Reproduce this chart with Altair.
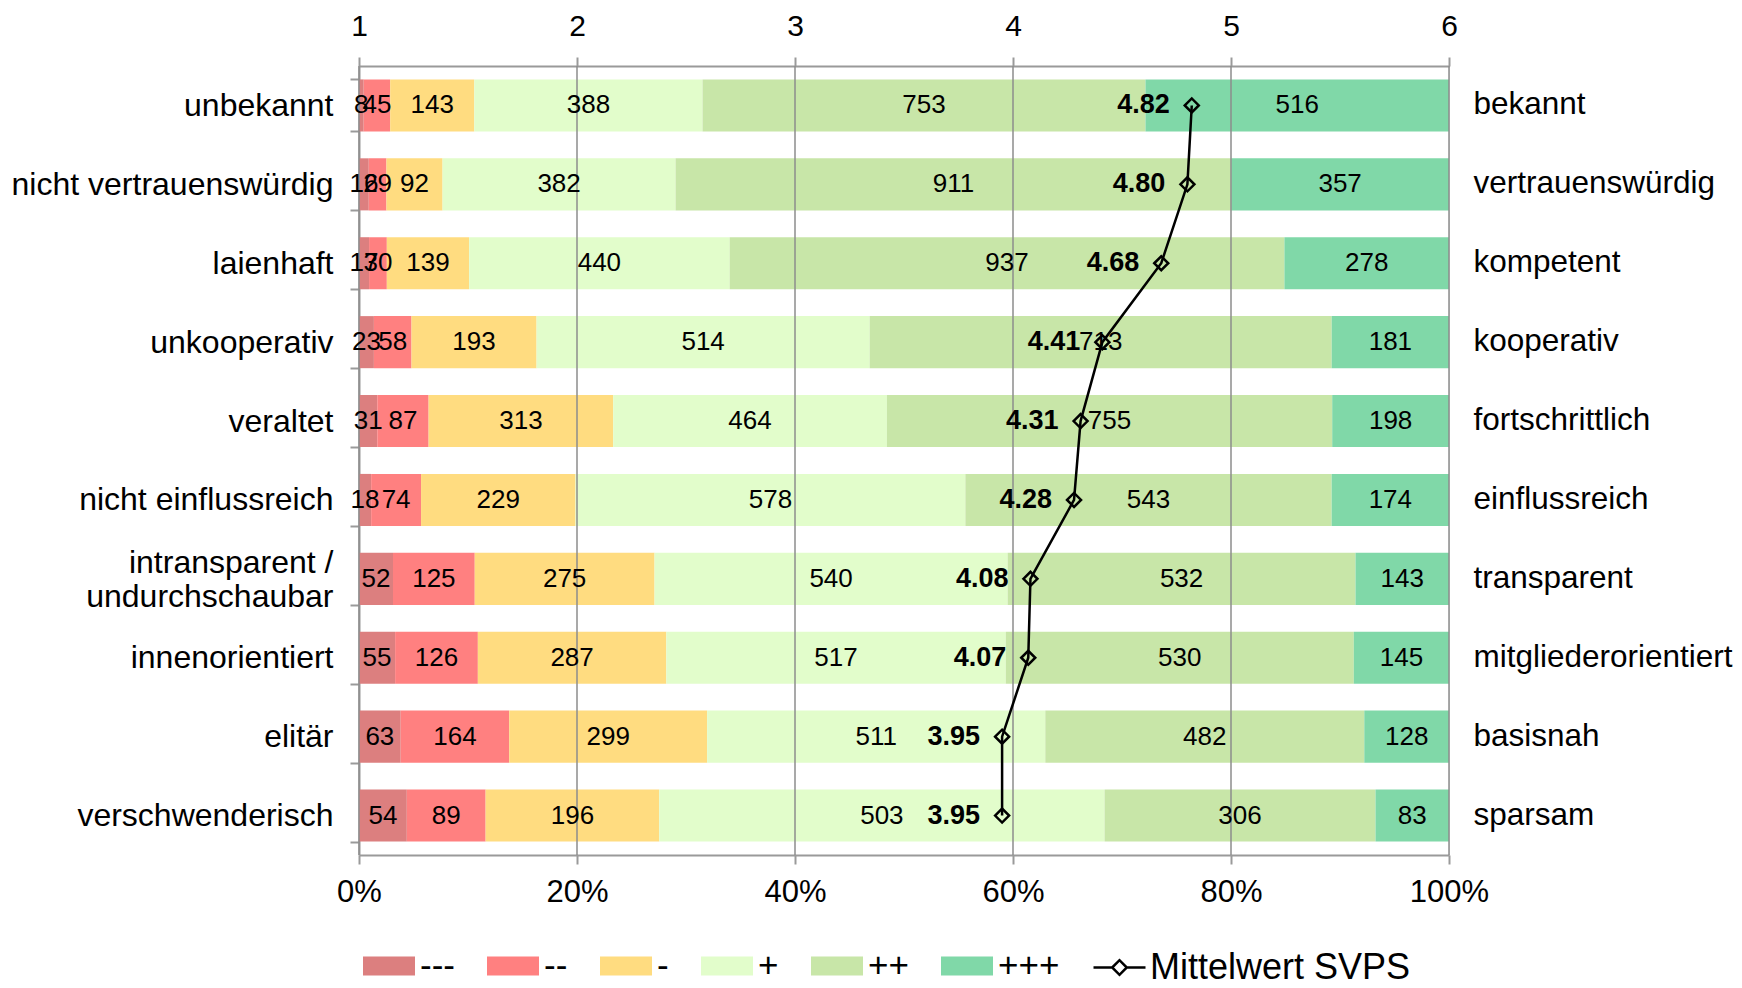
import altair as alt
import pandas as pd

FONT = "Liberation Sans"

left_labels = ["unbekannt", "nicht vertrauenswürdig", "laienhaft", "unkooperativ", "veraltet",
               "nicht einflussreich", "intransparent /\u00a0\u00a0|undurchschaubar", "innenorientiert",
               "elitär", "verschwenderisch"]
right_labels = ["bekannt", "vertrauenswürdig", "kompetent", "kooperativ", "fortschrittlich",
                "einflussreich", "transparent", "mitgliederorientiert", "basisnah", "sparsam"]
categories = ["---", "--", "-", "+", "++", "+++"]
cat_colors = ["#DC7F7F", "#FF8080", "#FFDC80", "#E2FDCB", "#C8E6A8", "#80D8A8"]

v_mmm = [8, 16, 17, 23, 31, 18, 52, 55, 63, 54]
v_mm = [45, 29, 30, 58, 87, 74, 125, 126, 164, 89]
v_m = [143, 92, 139, 193, 313, 229, 275, 287, 299, 196]
v_p = [388, 382, 440, 514, 464, 578, 540, 517, 511, 503]
v_pp = [753, 911, 937, 713, 755, 543, 532, 530, 482, 306]
v_ppp = [516, 357, 278, 181, 198, 174, 143, 145, 128, 83]
means = [4.82, 4.80, 4.68, 4.41, 4.31, 4.28, 4.08, 4.07, 3.95, 3.95]
mean_series = "Mittelwert SVPS"

scale_ticks = [1, 2, 3, 4, 5, 6]
pct_ticks = [0, 0.2, 0.4, 0.6, 0.8, 1.0]

series = [v_mmm, v_mm, v_m, v_p, v_pp, v_ppp]
rows = []
for ci, (cat, vals) in enumerate(zip(categories, series)):
    for i, v in enumerate(vals):
        rows.append({"idx": i, "cat": cat, "order": ci, "count": v})
df = pd.DataFrame(rows)
mean_df = pd.DataFrame({"idx": list(range(len(means))), "mean": means,
                        "series": [mean_series] * len(means)})
grid_df = pd.DataFrame({"p": pct_ticks})

lo, hi = scale_ticks[0], scale_ticks[-1]

xscale = alt.Scale(domain=[0, 1], nice=False, zero=False)
yscale = alt.Scale(paddingInner=0.34, paddingOuter=0.17)

L = str(left_labels)
R = str(right_labels)
left_expr = "isString(%s[datum.value]) ? split(%s[datum.value], '|') : ''" % (L, L)
right_expr = "isString(%s[datum.value]) ? %s[datum.value] : ''" % (R, R)
top_expr = "format(%d + datum.value * %d, 'd')" % (lo, hi - lo)
multi_idx = [i for i, s in enumerate(left_labels) if "|" in s]
multi_test = " || ".join("datum.value == %d" % i for i in multi_idx) or "false"

bottom_axis = alt.Axis(orient="bottom", values=pct_ticks, format="%", grid=False,
                       domainColor="#9a9a9a", domainWidth=2, tickColor="#9a9a9a",
                       tickWidth=2, tickSize=9, labelFontSize=31, labelFont=FONT,
                       labelColor="black", labelPadding=13, title=None, labelFlush=False)
top_axis = alt.Axis(orient="top", values=pct_ticks, labelExpr=top_expr, grid=False,
                    domainColor="#9a9a9a", domainWidth=2, tickColor="#9a9a9a",
                    tickWidth=2, tickSize=9, labelFontSize=30, labelFont=FONT,
                    labelColor="black", labelPadding=16, title=None, labelFlush=False)
left_axis = alt.Axis(orient="left", labelExpr=left_expr, tickBand="extent", grid=False,
                     domainColor="#9a9a9a", domainWidth=2, tickColor="#9a9a9a",
                     tickWidth=2, tickSize=9, labelFontSize=32, labelFont=FONT,
                     labelColor="black", labelPadding=17, labelLimit=0,
                     labelLineHeight=34,
                     labelOffset={"condition": {"test": multi_test, "value": -16}, "value": 0},
                     title=None)
right_axis = alt.Axis(orient="right", labelExpr=right_expr, grid=False, domain=False,
                      ticks=False, labelFontSize=31.5, labelFont=FONT, labelColor="black",
                      labelPadding=24, labelLimit=0, title=None)

base = alt.Chart(df).transform_stack(
    stack="count", groupby=["idx"], as_=["s0", "s1"], offset="normalize",
    sort=[alt.SortField("order", order="ascending")]
)

bars = base.mark_bar().encode(
    x=alt.X("s0:Q", scale=xscale, axis=bottom_axis),
    x2="s1:Q",
    y=alt.Y("idx:O", scale=yscale, axis=left_axis),
    color=alt.Color("cat:N", scale=alt.Scale(domain=categories, range=cat_colors),
                    sort=categories,
                    legend=alt.Legend(orient="none", legendX=4, legendY=874,
                                      direction="horizontal", columns=6, title=None,
                                      labelFontSize=35, labelFont=FONT, labelColor="black",
                                      labelLimit=0,
                                      symbolType="M-1,-0.37H1V0.37H-1Z", symbolSize=2704,
                                      symbolStrokeWidth=0, symbolOpacity=1,
                                      columnPadding=32, labelOffset=5, padding=0)),
)

grid = alt.Chart(grid_df).mark_rule(color="#8c8c8c", strokeWidth=1.5).encode(
    x=alt.X("p:Q", scale=xscale, axis=top_axis)
)

values = base.transform_calculate(mid="(datum.s0 + datum.s1) / 2").mark_text(
    fontSize=26, font=FONT, color="black"
).encode(
    x=alt.X("mid:Q", scale=xscale, axis=None),
    y=alt.Y("idx:O", scale=yscale, axis=right_axis),
    text=alt.Text("count:Q"),
)

mbase = alt.Chart(mean_df).transform_calculate(
    pos="(datum.mean - %d) / %d" % (lo, hi - lo)
)

line = mbase.mark_line(strokeWidth=2.5).encode(
    x=alt.X("pos:Q", scale=xscale, axis=None),
    y=alt.Y("idx:O", scale=yscale, axis=None),
    order="idx:Q",
    stroke=alt.Stroke("series:N", scale=alt.Scale(range=["black"]),
                      legend=alt.Legend(orient="none", legendX=733, legendY=874, title=None,
                                        labelFontSize=36, labelFont=FONT, labelColor="black",
                                        labelLimit=0,
                                        symbolType="M-1,0H-0.28M0.28,0H1M-0.28,0L0,-0.28L0.28,0L0,0.28Z",
                                        symbolSize=2704, symbolStrokeWidth=2.5,
                                        symbolStrokeColor="black", symbolFillColor="white",
                                        labelOffset=3, padding=0)),
)

points = mbase.mark_point(shape="diamond", filled=False, size=196, strokeWidth=2.5,
                          color="black", opacity=1).encode(
    x=alt.X("pos:Q", scale=xscale, axis=None),
    y=alt.Y("idx:O", scale=yscale, axis=None),
)

mean_text = mbase.mark_text(fontSize=27, font=FONT, fontWeight="bold", align="right",
                            dx=-22, color="black").encode(
    x=alt.X("pos:Q", scale=xscale, axis=None),
    y=alt.Y("idx:O", scale=yscale, axis=None),
    text=alt.Text("mean:Q", format=".2f"),
)

chart = alt.layer(bars, grid, values, line, points, mean_text).resolve_axis(
    x="independent", y="independent"
).properties(
    width=1090, height=789,
    autosize=alt.AutoSizeParams(type="none"),
    padding={"left": 351, "top": 58, "right": 285, "bottom": 133},
).configure_view(stroke="transparent").configure(font=FONT)

chart.save("out.html", embed_options={"renderer": "svg", "actions": False})
